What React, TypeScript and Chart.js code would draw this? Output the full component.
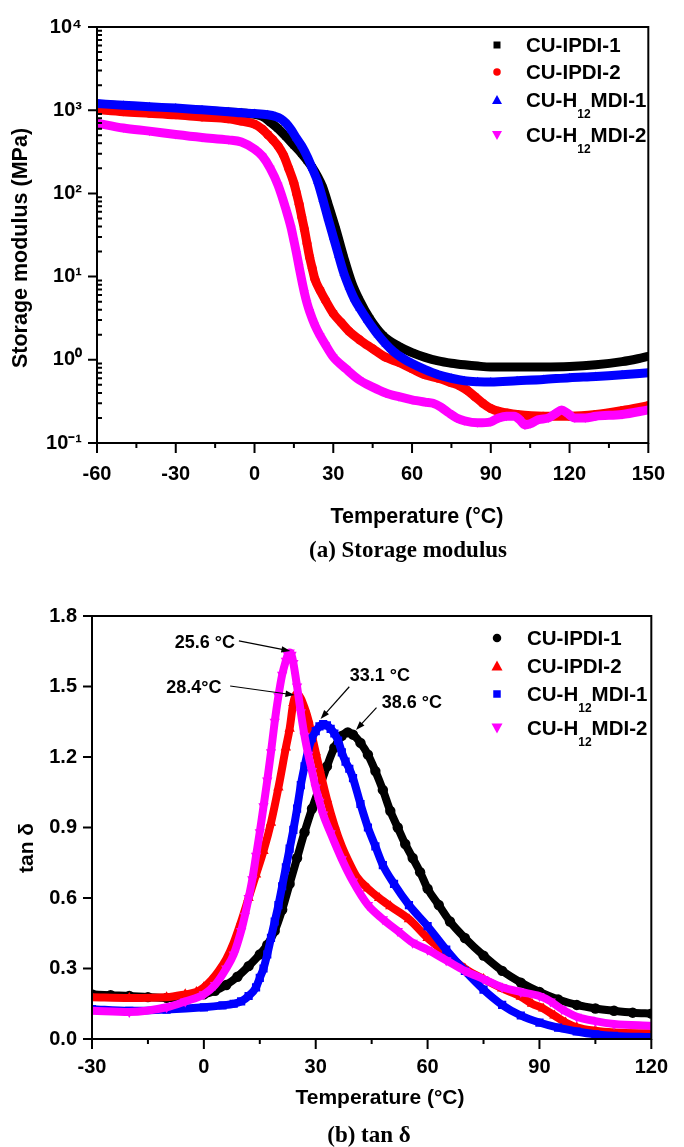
import React, { useEffect, useRef } from 'react';
import { Chart, registerables } from 'chart.js';

Chart.register(...registerables);

const SANS = '"Liberation Sans", Arial, Helvetica, sans-serif';
const SERIF = '"Liberation Serif", "Times New Roman", Times, serif';

// ---------- shared series info ----------
const seriesNames = ['CU-IPDI-1', 'CU-IPDI-2', 'CU-H12MDI-1', 'CU-H12MDI-2'];
const seriesColors = ['#000000', '#ff0000', '#0000ff', '#ff00ff'];

// ---------- (a) storage modulus (MPa) vs temperature ----------
const modXTicks = [-60, -30, 0, 30, 60, 90, 120, 150];
const modYTicks = [0.1, 1, 10, 100, 1000, 10000];
const modYTickLabels = ['10⁻¹', '10⁰', '10¹', '10²', '10³', '10⁴'];

const modTempIPDI1 = [-60, -50, -40, -30, -20, -10, -5, 0, 3, 6, 9, 12, 15, 18, 20, 22, 24, 26, 28, 31, 34, 37, 40, 44, 49, 55, 60, 65, 70, 75, 80, 85, 90, 100, 110, 120, 130, 140, 146, 150];
const modIPDI1 = [1180, 1120, 1070, 1030, 990, 950, 930, 890, 840, 720, 600, 480, 380, 300, 250, 205, 160, 118, 75, 37, 17, 8.5, 5.2, 3.1, 1.95, 1.45, 1.22, 1.07, 0.97, 0.91, 0.87, 0.84, 0.82, 0.82, 0.82, 0.83, 0.87, 0.95, 1.03, 1.1];

const modTempIPDI2 = [-60, -50, -40, -30, -20, -10, -5, 0, 3, 5, 7, 9, 11, 13, 15, 16, 17, 18, 19, 20, 21, 22, 23, 25, 27, 30, 33, 36, 40, 45, 50, 55, 60, 65, 70, 75, 78, 81, 84, 87, 90, 93, 96, 100, 110, 120, 130, 140, 150];
const modIPDI2 = [1020, 960, 920, 880, 830, 790, 740, 680, 590, 510, 440, 370, 290, 200, 133, 100, 74, 52, 37, 25, 17, 12.5, 9.3, 6.8, 5.2, 3.6, 2.8, 2.2, 1.74, 1.36, 1.07, 0.93, 0.78, 0.66, 0.6, 0.53, 0.49, 0.43, 0.36, 0.3, 0.26, 0.24, 0.23, 0.22, 0.21, 0.21, 0.22, 0.245, 0.28];

const modTempH1 = [-60, -50, -40, -30, -20, -10, -5, 0, 5, 8, 10, 12, 14, 16, 18, 20, 22, 24, 26, 28, 30, 32, 34, 36, 38, 40, 43, 47, 50, 53, 57, 60, 65, 70, 75, 80, 85, 90, 100, 110, 120, 130, 140, 150];
const modH1 = [1200, 1150, 1100, 1060, 1010, 960, 930, 910, 880, 840, 790, 700, 580, 460, 370, 280, 200, 140, 85, 50, 30, 18, 11, 7.5, 5.4, 4.2, 3.0, 2.0, 1.55, 1.25, 1.02, 0.9, 0.76, 0.66, 0.6, 0.56, 0.545, 0.54, 0.56, 0.58, 0.61, 0.63, 0.66, 0.7];

const modTempH2 = [-60, -50, -40, -30, -20, -10, -5, 0, 3, 6, 9, 12, 14, 15, 16, 17, 18, 19, 20, 21, 23, 25, 27, 30, 35, 40, 45, 50, 55, 60, 65, 68, 71, 74, 77, 80, 85, 90, 93, 96, 99, 101, 103, 105, 108, 112, 115, 117, 119, 122, 126, 130, 140, 150];
const modH2 = [700, 610, 560, 510, 470, 440, 415, 340, 280, 200, 125, 64, 38, 27, 19, 13, 9, 6.4, 4.8, 3.8, 2.6, 1.95, 1.52, 1.08, 0.77, 0.57, 0.47, 0.4, 0.36, 0.33, 0.31, 0.3, 0.27, 0.23, 0.2, 0.185, 0.175, 0.18, 0.2, 0.21, 0.21, 0.19, 0.165, 0.17, 0.19, 0.2, 0.23, 0.25, 0.23, 0.2, 0.2, 0.21, 0.22, 0.25];

// ---------- (b) tan delta vs temperature ----------
const tanXTicks = [-30, 0, 30, 60, 90, 120];
const tanYTicks = [0, 0.3, 0.6, 0.9, 1.2, 1.5, 1.8];
const tanYTickLabels = ['0.0', '0.3', '0.6', '0.9', '1.2', '1.5', '1.8'];

const tanTempIPDI1 = [-30, -25, -20, -15, -10, -5, 0, 3, 6, 9, 12, 15, 17, 19, 21, 23, 25, 27, 29, 31, 33, 35, 37, 38.6, 40, 42, 44, 46, 48, 50, 52, 54, 56, 58, 60, 63, 66, 70, 75, 80, 85, 90, 95, 100, 105, 110, 115, 120];
const tanIPDI1 = [0.19, 0.186, 0.183, 0.178, 0.175, 0.178, 0.19, 0.205, 0.23, 0.265, 0.31, 0.36, 0.4, 0.46, 0.55, 0.66, 0.77, 0.88, 0.98, 1.07, 1.16, 1.24, 1.29, 1.305, 1.295, 1.26, 1.21, 1.14, 1.06, 0.97, 0.9, 0.83, 0.77, 0.71, 0.64, 0.57, 0.5, 0.43, 0.355, 0.29, 0.24, 0.2, 0.168, 0.145, 0.13, 0.12, 0.112, 0.108];

const tanTempIPDI2 = [-30, -20, -10, -5, -2, 0, 2, 4, 6, 8, 10, 12, 14, 16, 18, 20, 22, 23, 24, 25, 26, 27, 28, 29, 30, 31, 33, 35, 37, 39, 41, 44, 47, 50, 55, 60, 65, 70, 75, 80, 85, 88, 91, 94, 97, 100, 105, 110, 120];
const tanIPDI2 = [0.178, 0.175, 0.178, 0.19, 0.2, 0.22, 0.25, 0.29, 0.34, 0.41, 0.5, 0.6, 0.7, 0.8, 0.92, 1.07, 1.24, 1.32, 1.43, 1.47, 1.45, 1.41, 1.36, 1.29, 1.22, 1.15, 1.02, 0.91, 0.82, 0.75, 0.69, 0.64, 0.6, 0.565, 0.51, 0.43, 0.365, 0.3, 0.255, 0.215, 0.18, 0.15, 0.13, 0.1, 0.07, 0.05, 0.035, 0.028, 0.024];

const tanTempH1 = [-30, -20, -10, 0, 5, 8, 10, 12, 14, 15, 16, 17, 18, 19, 20, 21, 22, 23, 24, 25, 26, 27, 28, 29, 30, 31, 32, 33, 34, 35, 36, 37, 38, 39, 40, 42, 44, 46, 48, 51, 55, 60, 65, 70, 75, 80, 85, 90, 95, 100, 105, 110, 120];
const tanH1 = [0.127, 0.12, 0.125, 0.135, 0.143, 0.15, 0.16, 0.183, 0.22, 0.26, 0.3, 0.36, 0.43, 0.5, 0.57, 0.65, 0.73, 0.81, 0.89, 0.98, 1.08, 1.16, 1.23, 1.28, 1.31, 1.33, 1.34, 1.335, 1.32, 1.3, 1.27, 1.22, 1.18, 1.15, 1.11, 1.0, 0.9, 0.82, 0.74, 0.66, 0.57, 0.48, 0.38, 0.29, 0.21, 0.145, 0.1, 0.07, 0.048, 0.032, 0.02, 0.013, 0.008];

const tanTempH2 = [-30, -20, -10, -5, 0, 3, 6, 8, 10, 11, 12, 13, 14, 15, 16, 17, 18, 19, 20, 21, 22, 22.5, 23, 23.5, 24, 25, 26, 27, 28, 29, 30, 31, 32, 34, 37, 40, 44, 48, 52, 56, 60, 65, 70, 75, 80, 85, 90, 93, 96, 100, 105, 110, 120];
const tanH2 = [0.12, 0.115, 0.135, 0.16, 0.19, 0.23, 0.3, 0.36, 0.46, 0.525, 0.6, 0.68, 0.78, 0.88, 0.99, 1.1, 1.22, 1.35, 1.46, 1.55, 1.61, 1.635, 1.645, 1.635, 1.6, 1.5, 1.39, 1.29, 1.21, 1.14, 1.07, 1.01, 0.955, 0.876, 0.765, 0.67, 0.57, 0.51, 0.46, 0.41, 0.38, 0.335, 0.29, 0.255, 0.22, 0.2, 0.183, 0.16, 0.127, 0.095, 0.076, 0.064, 0.056];

const peakLabels = ['25.6 °C', '28.4°C', '33.1 °C', '38.6 °C'];

// ---------- drawing helpers ----------
type Seg = { t: string; sub?: boolean; sup?: boolean };

function nameSegs(name: string): Seg[] {
  const m = name.match(/^(.*H)(\d+)(MDI.*)$/);
  if (!m) return [{ t: name }];
  return [{ t: m[1] }, { t: m[2], sub: true }, { t: m[3] }];
}

function drawRich(
  ctx: CanvasRenderingContext2D,
  segs: Seg[],
  x: number,
  yCenter: number,
  size: number,
  family: string,
  align: 'left' | 'center' | 'right'
) {
  const small = Math.round(size * 0.6);
  const fMain = `bold ${size}px ${family}`;
  const fSmall = `bold ${small}px ${family}`;
  let total = 0;
  const ws = segs.map((s) => {
    ctx.font = s.sub || s.sup ? fSmall : fMain;
    const w = ctx.measureText(s.t).width;
    total += w;
    return w;
  });
  let cx = align === 'left' ? x : align === 'center' ? x - total / 2 : x - total;
  const base = yCenter + size * 0.36;
  ctx.textAlign = 'left';
  ctx.textBaseline = 'alphabetic';
  segs.forEach((s, i) => {
    ctx.font = s.sub || s.sup ? fSmall : fMain;
    const dy = s.sub ? size * 0.5 : s.sup ? -size * 0.45 : 0;
    ctx.fillText(s.t, cx, base + dy);
    cx += ws[i];
  });
}

function drawMarker(ctx: CanvasRenderingContext2D, style: string, x: number, y: number, size: number, color: string) {
  const h = size / 2;
  ctx.save();
  ctx.fillStyle = color;
  ctx.beginPath();
  if (style === 'rect') ctx.rect(x - h, y - h, size, size);
  else if (style === 'circle') ctx.arc(x, y, h, 0, Math.PI * 2);
  else if (style === 'triangle') {
    ctx.moveTo(x, y - h);
    ctx.lineTo(x + h, y + h * 0.8);
    ctx.lineTo(x - h, y + h * 0.8);
    ctx.closePath();
  } else {
    ctx.moveTo(x, y + h);
    ctx.lineTo(x + h, y - h * 0.8);
    ctx.lineTo(x - h, y - h * 0.8);
    ctx.closePath();
  }
  ctx.fill();
  ctx.restore();
}

function drawArrow(ctx: CanvasRenderingContext2D, x1: number, y1: number, x2: number, y2: number) {
  const ang = Math.atan2(y2 - y1, x2 - x1);
  const L = 9;
  const W = 3.2;
  ctx.save();
  ctx.strokeStyle = '#000';
  ctx.fillStyle = '#000';
  ctx.lineWidth = 1.2;
  ctx.beginPath();
  ctx.moveTo(x1, y1);
  ctx.lineTo(x2 - Math.cos(ang) * L * 0.8, y2 - Math.sin(ang) * L * 0.8);
  ctx.stroke();
  ctx.beginPath();
  ctx.moveTo(x2, y2);
  ctx.lineTo(x2 - Math.cos(ang) * L - Math.sin(ang) * W, y2 - Math.sin(ang) * L + Math.cos(ang) * W);
  ctx.lineTo(x2 - Math.cos(ang) * L + Math.sin(ang) * W, y2 - Math.sin(ang) * L - Math.cos(ang) * W);
  ctx.closePath();
  ctx.fill();
  ctx.restore();
}

interface Annot {
  text: string;
  tx: number;
  ty: number;
  align: 'left' | 'right';
  from: [number, number];
  to: [number, number];
}

interface PanelSpec {
  id: string;
  yTitle: Seg[];
  yTitlePos: [number, number];
  xTitle: Seg[];
  xTitlePos: [number, number];
  titleSize: number;
  caption: string;
  captionPos: [number, number];
  captionSize: number;
  legendStyles: string[];
  legendSizes: number[];
  legendMarkerX: number;
  legendTextX: number;
  legendRows: number[];
  logMinor: boolean;
  annotations: Annot[];
}

function decorPlugin(spec: PanelSpec) {
  return {
    id: 'decor_' + spec.id,
    afterDraw(chart: any) {
      const ctx: CanvasRenderingContext2D = chart.ctx;
      const ca = chart.chartArea;
      const xs = chart.scales.x;
      const ys = chart.scales.y;
      ctx.save();
      // frame
      ctx.strokeStyle = '#000';
      ctx.lineWidth = 2;
      ctx.strokeRect(ca.left, ca.top, ca.right - ca.left, ca.bottom - ca.top);
      // tick marks
      ctx.beginPath();
      const xt: number[] = xs.ticks.map((t: any) => t.value);
      xt.forEach((v) => {
        const p = xs.getPixelForValue(v);
        ctx.moveTo(p, ca.bottom);
        ctx.lineTo(p, ca.bottom + 10);
      });
      for (let i = 0; i < xt.length - 1; i++) {
        const p = xs.getPixelForValue((xt[i] + xt[i + 1]) / 2);
        ctx.moveTo(p, ca.bottom);
        ctx.lineTo(p, ca.bottom + 5);
      }
      const yt: number[] = ys.ticks.map((t: any) => t.value);
      yt.forEach((v) => {
        const p = ys.getPixelForValue(v);
        ctx.moveTo(ca.left - 9, p);
        ctx.lineTo(ca.left, p);
      });
      if (spec.logMinor) {
        for (let i = 0; i < yt.length - 1; i++) {
          for (let m = 2; m <= 9; m++) {
            const p = ys.getPixelForValue(yt[i] * m);
            ctx.moveTo(ca.left, p);
            ctx.lineTo(ca.left + 5, p);
          }
        }
      }
      ctx.stroke();

      ctx.fillStyle = '#000';
      // axis titles
      ctx.save();
      ctx.translate(spec.yTitlePos[0], spec.yTitlePos[1]);
      ctx.rotate(-Math.PI / 2);
      drawRich(ctx, spec.yTitle, 0, 0, spec.titleSize, SANS, 'center');
      ctx.restore();
      drawRich(ctx, spec.xTitle, spec.xTitlePos[0], spec.xTitlePos[1], spec.titleSize, SANS, 'center');
      // caption
      drawRich(ctx, [{ t: spec.caption }], spec.captionPos[0], spec.captionPos[1], spec.captionSize, SERIF, 'center');

      // legend
      seriesNames.forEach((name, i) => {
        const y = spec.legendRows[i];
        drawMarker(ctx, spec.legendStyles[i], spec.legendMarkerX, y, spec.legendSizes[i], seriesColors[i]);
        ctx.fillStyle = '#000';
        drawRich(ctx, nameSegs(name), spec.legendTextX, y, 20.5, SANS, 'left');
      });

      // annotations
      spec.annotations.forEach((a) => {
        const tx = xs.getPixelForValue(a.tx);
        const ty = ys.getPixelForValue(a.ty);
        ctx.fillStyle = '#000';
        drawRich(ctx, [{ t: a.text }], tx, ty, 18, SANS, a.align);
        drawArrow(
          ctx,
          xs.getPixelForValue(a.from[0]),
          ys.getPixelForValue(a.from[1]),
          xs.getPixelForValue(a.to[0]),
          ys.getPixelForValue(a.to[1])
        );
      });
      ctx.restore();
    },
  };
}

function makeDataset(
  label: string,
  temps: number[],
  vals: number[],
  color: string,
  style: string,
  radius: number,
  rotation: number,
  order: number,
  width: number
) {
  return {
    label,
    data: temps.map((t, i) => ({ x: t, y: vals[i] })),
    borderColor: color,
    backgroundColor: color,
    pointBackgroundColor: color,
    pointBorderColor: color,
    pointBorderWidth: 0,
    borderWidth: width,
    pointRadius: radius,
    pointStyle: style,
    pointRotation: rotation,
    cubicInterpolationMode: 'monotone',
    borderJoinStyle: 'round',
    borderCapStyle: 'round',
    order,
    clip: 0,
  };
}

const tickFont = { family: SANS, size: 20, weight: 'bold' as const };

function buildConfig(
  datasets: any[],
  xTicks: number[],
  xMin: number,
  xMax: number,
  yType: 'linear' | 'logarithmic',
  yTicks: number[],
  yLabels: string[],
  yMin: number,
  yMax: number,
  pad: { top: number; right: number },
  yWidth: number,
  xHeight: number,
  xPad: number,
  spec: PanelSpec
): any {
  return {
    type: 'line',
    data: { datasets },
    options: {
      animation: false,
      responsive: false,
      maintainAspectRatio: false,
      devicePixelRatio: 1,
      events: [],
      layout: { padding: { top: pad.top, right: pad.right, left: 0, bottom: 0 } },
      plugins: { legend: { display: false }, tooltip: { enabled: false }, title: { display: false } },
      scales: {
        x: {
          type: 'linear',
          min: xMin,
          max: xMax,
          afterBuildTicks: (s: any) => {
            s.ticks = xTicks.map((v) => ({ value: v }));
          },
          afterFit: (s: any) => {
            s.height = xHeight;
          },
          ticks: {
            font: tickFont,
            color: '#000',
            padding: xPad,
            autoSkip: false,
            maxRotation: 0,
            callback: (v: any) => String(v),
          },
          grid: { display: false, drawTicks: false },
          border: { display: false },
        },
        y: {
          type: yType,
          min: yMin,
          max: yMax,
          afterBuildTicks: (s: any) => {
            s.ticks = yTicks.map((v) => ({ value: v }));
          },
          afterFit: (s: any) => {
            s.width = yWidth;
          },
          ticks: {
            font: tickFont,
            color: '#000',
            padding: 15,
            autoSkip: false,
            callback: (_v: any, i: number) => yLabels[i],
          },
          grid: { display: false, drawTicks: false },
          border: { display: false },
        },
      },
    },
    plugins: [decorPlugin(spec)],
  };
}

const modSpec: PanelSpec = {
  id: 'mod',
  yTitle: [{ t: 'Storage modulus (MPa)' }],
  yTitlePos: [19, 248],
  xTitle: [{ t: 'Temperature (°C)' }],
  xTitlePos: [417, 515],
  titleSize: 21.5,
  caption: '(a) Storage modulus',
  captionPos: [408, 549],
  captionSize: 23,
  legendStyles: ['rect', 'circle', 'triangle', 'triangleDown'],
  legendSizes: [7, 7.5, 10, 10],
  legendMarkerX: 497,
  legendTextX: 526,
  legendRows: [45, 72, 100, 135],
  logMinor: true,
  annotations: [],
};

const tanSpec: PanelSpec = {
  id: 'tan',
  yTitle: [{ t: 'tan δ' }],
  yTitlePos: [25, 273],
  xTitle: [{ t: 'Temperature (°C)' }],
  xTitlePos: [380, 521],
  titleSize: 21,
  caption: '(b) tan δ',
  captionPos: [369, 559],
  captionSize: 23,
  legendStyles: ['circle', 'triangle', 'rect', 'triangleDown'],
  legendSizes: [8.5, 11, 7.5, 11],
  legendMarkerX: 497,
  legendTextX: 527,
  legendRows: [63, 91, 119, 153],
  logMinor: false,
  annotations: [
    { text: peakLabels[0], tx: 8.35, ty: 1.69, align: 'right', from: [9.4, 1.694], to: [23.2, 1.651] },
    { text: peakLabels[1], tx: 4.7, ty: 1.498, align: 'right', from: [7.05, 1.502], to: [24.3, 1.464] },
    { text: peakLabels[2], tx: 39.1, ty: 1.549, align: 'left', from: [39.0, 1.499], to: [31.3, 1.362] },
    { text: peakLabels[3], tx: 47.7, ty: 1.434, align: 'left', from: [46.3, 1.41], to: [40.8, 1.315] },
  ],
};

export default function App() {
  const topRef = useRef<HTMLCanvasElement | null>(null);
  const botRef = useRef<HTMLCanvasElement | null>(null);

  useEffect(() => {
    if (!topRef.current || !botRef.current) return;
    const modSets = [
      makeDataset(seriesNames[0], modTempIPDI1, modIPDI1, seriesColors[0], 'rect', 4.8, 0, 4, 9),
      makeDataset(seriesNames[1], modTempIPDI2, modIPDI2, seriesColors[1], 'circle', 4.5, 0, 3, 9),
      makeDataset(seriesNames[2], modTempH1, modH1, seriesColors[2], 'triangle', 5, 0, 2, 9),
      makeDataset(seriesNames[3], modTempH2, modH2, seriesColors[3], 'triangle', 5, 180, 1, 9),
    ];
    const tanSets = [
      makeDataset(seriesNames[0], tanTempIPDI1, tanIPDI1, seriesColors[0], 'circle', 5.2, 0, 4, 8),
      makeDataset(seriesNames[1], tanTempIPDI2, tanIPDI2, seriesColors[1], 'triangle', 6, 0, 3, 8),
      makeDataset(seriesNames[2], tanTempH1, tanH1, seriesColors[2], 'rect', 5.8, 0, 2, 8),
      makeDataset(seriesNames[3], tanTempH2, tanH2, seriesColors[3], 'triangle', 6, 180, 1, 8),
    ];
    const top = new Chart(
      topRef.current,
      buildConfig(modSets, modXTicks, -60, 150, 'logarithmic', modYTicks, modYTickLabels, 0.1, 10000,
        { top: 26, right: 21 }, 97, 132, 19, modSpec)
    );
    const bot = new Chart(
      botRef.current,
      buildConfig(tanSets, tanXTicks, -30, 120, 'linear', tanYTicks, tanYTickLabels, 0, 1.8,
        { top: 41, right: 17 }, 92, 108, 16, tanSpec)
    );
    return () => {
      top.destroy();
      bot.destroy();
    };
  }, []);

  return (
    <div style={{ position: 'absolute', left: 0, top: 0, width: 684, height: 1147, background: '#fff' }}>
      <canvas ref={topRef} width={684} height={575} style={{ position: 'absolute', left: 0, top: 0 }} />
      <canvas ref={botRef} width={684} height={572} style={{ position: 'absolute', left: 0, top: 575 }} />
    </div>
  );
}
